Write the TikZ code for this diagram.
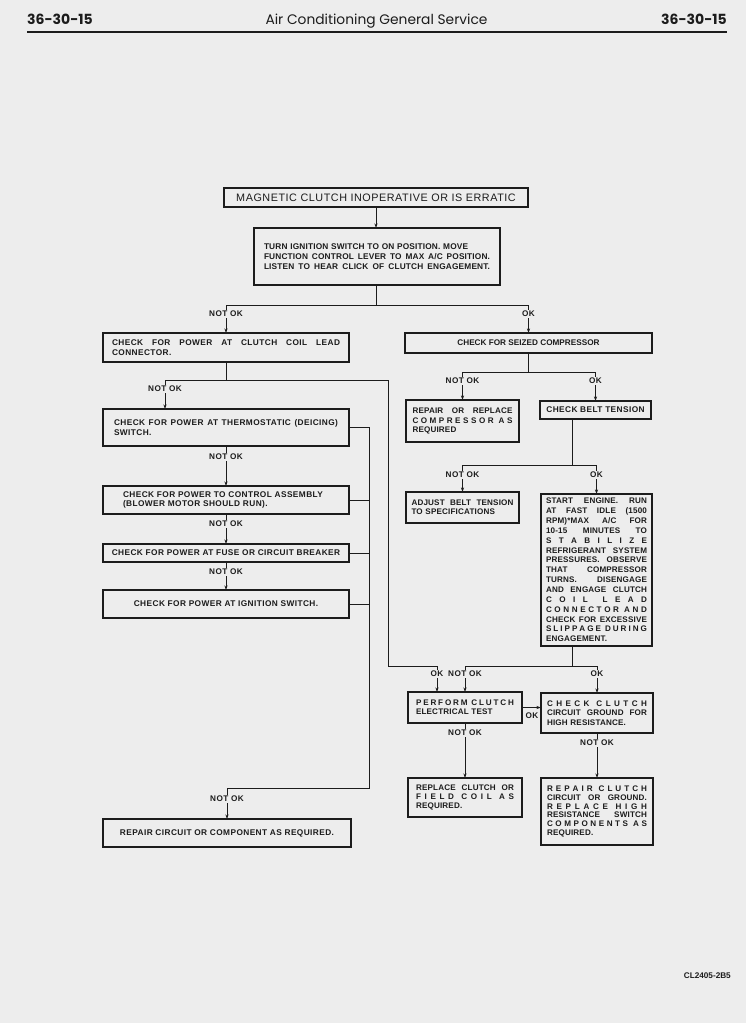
\documentclass[tikz,border=0pt]{standalone}
\usepackage{fontspec}
\setmainfont{Liberation Sans}
\newfontfamily\boxfont{Liberation Sans}[LetterSpace=5]
\newfontfamily\slimfont{Liberation Sans}[LetterSpace=2]
\newfontfamily\headfont{Poppins}
\usetikzlibrary{arrows.meta}
\definecolor{paper}{RGB}{237,237,237}
\definecolor{ink}{RGB}{28,28,28}
\setlength{\parindent}{0pt}
% one justified line, and a word with its letters spread out
\newcommand{\jl}[1]{\makebox[\hsize][s]{\spaceskip=.3em plus 1fil minus .1em\relax #1}}
\newcommand{\ls}[1]{\lsi#1\relax}
\def\lsi#1#2{#1\ifx\relax#2\else\hfill\expandafter\lsi\expandafter#2\fi}

\begin{document}
\begin{tikzpicture}[x=1pt, y=-1pt,
  stepbox/.style={draw=ink, line width=1.2pt, inner ysep=0pt, outer sep=0pt, text=ink, align=left,
    font=\boxfont\bfseries\fontsize{8.3}{9.3}\selectfont},
  slimbox/.style={stepbox, font=\slimfont\bfseries\fontsize{8.1}{9.3}\selectfont},
  midbox/.style={stepbox, inner xsep=0pt, align=center},
  wire/.style={draw=ink, line width=0.8pt},
  arr/.style={wire, -{Stealth[length=4.5pt,width=3pt]}},
  lab/.style={font=\boxfont\bfseries\fontsize{8.2}{9}\selectfont, text=ink, fill=paper, inner sep=1pt}]
  \fill[paper] (0,0) rectangle (746,1023);
  \useasboundingbox (0,0) rectangle (746,1023);

  % Page head
  \node[font=\headfont\bfseries\fontsize{14}{17}\selectfont, text=ink, anchor=base west, inner sep=0pt] (pgl) at (27,24.5) {36-30-15};
  \node[font=\headfont\bfseries\fontsize{14}{17}\selectfont, text=ink, anchor=base east, inner sep=0pt] (pgr) at (727,24.5) {36-30-15};
  \node[font=\headfont\fontsize{13.8}{16}\selectfont, text=ink, anchor=base, inner sep=0pt] (head) at (376.5,24.5) {Air Conditioning General Service};
  \draw[ink, line width=1.3pt] (27,32) -- (727,32);

  % Boxes
  \node[midbox, font=\boxfont\fontsize{10.8}{12}\selectfont, minimum width=304pt, minimum height=19pt] (top) at (376,197.5)
    {MAGNETIC CLUTCH INOPERATIVE OR IS ERRATIC};
  \node[slimbox, text width=226pt, inner xsep=10pt, minimum height=57pt, font=\slimfont\bfseries\fontsize{8.3}{9.8}\selectfont] (turn) at (377,256.5)
    {TURN IGNITION SWITCH TO ON POSITION. MOVE\\
     \jl{FUNCTION CONTROL LEVER TO MAX A/C POSITION.}\\
     \jl{LISTEN TO HEAR CLICK OF CLUTCH ENGAGEMENT.}};

  % left column
  \node[stepbox, text width=228pt, inner xsep=9pt, minimum height=29pt] (coil) at (226,347.5)
    {\jl{CHECK FOR POWER AT CLUTCH COIL LEAD}\\ CONNECTOR.};
  \node[stepbox, text width=224pt, inner xsep=11pt, minimum height=37pt] (thermo) at (226,427.5)
    {\jl{CHECK FOR POWER AT THERMOSTATIC (DEICING)}\\ SWITCH.};
  \node[stepbox, text width=206pt, inner xsep=20pt, minimum height=28pt] (control) at (226,500)
    {CHECK FOR POWER TO CONTROL ASSEMBLY\\ (BLOWER MOTOR SHOULD RUN).};
  \node[midbox, minimum width=246pt, minimum height=18pt] (fuse) at (226,553)
    {CHECK FOR POWER AT FUSE OR CIRCUIT BREAKER};
  \node[midbox, minimum width=246pt, minimum height=28pt] (ignition) at (226,604)
    {CHECK FOR POWER AT IGNITION SWITCH.};
  \node[midbox, minimum width=248pt, minimum height=28pt] (repcirc) at (227,833)
    {REPAIR CIRCUIT OR COMPONENT AS REQUIRED.};

  % right column
  \node[midbox, font=\bfseries\fontsize{8.2}{9}\selectfont, minimum width=247pt, minimum height=20pt] (seized) at (528.5,343)
    {CHECK FOR SEIZED COMPRESSOR};
  \node[slimbox, text width=100pt, inner xsep=6.5pt, minimum height=42pt] (repcomp) at (462.5,421)
    {\jl{REPAIR OR REPLACE}\\ \jl{\ls{COMPRESSOR}\hfill\hfill\ls{AS}}\\ REQUIRED};
  \node[midbox, minimum width=111pt, minimum height=18pt] (belt) at (595.5,410)
    {CHECK BELT TENSION};
  \node[slimbox, text width=102pt, inner xsep=5.5pt, minimum height=31pt] (adjust) at (462.5,507.5)
    {\jl{ADJUST BELT TENSION}\\ TO SPECIFICATIONS};
  \node[slimbox, text width=101pt, inner xsep=5pt, minimum height=152pt, font=\slimfont\bfseries\fontsize{8.1}{9.85}\selectfont] (start) at (596.5,570)
    {\jl{START ENGINE. RUN}\\
     \jl{AT FAST IDLE (1500}\\
     \jl{RPM)*MAX A/C FOR}\\
     \jl{10-15 MINUTES TO}\\
     \jl{\ls{STABILIZE}}\\
     \jl{REFRIGERANT SYSTEM}\\
     \jl{PRESSURES. OBSERVE}\\
     \jl{THAT COMPRESSOR}\\
     \jl{TURNS. DISENGAGE}\\
     \jl{AND ENGAGE CLUTCH}\\
     \jl{\ls{COIL}\hfill\hfill\ls{LEAD}}\\
     \jl{\ls{CONNECTOR}\hfill\hfill\ls{AND}}\\
     \jl{CHECK FOR EXCESSIVE}\\
     \jl{\ls{SLIPPAGE}\hfill\hfill\ls{DURING}}\\
     ENGAGEMENT.};
  \node[slimbox, text width=98pt, inner xsep=8pt, minimum height=31pt] (perform) at (465,707.5)
    {\jl{\ls{PERFORM}\hfill\hfill\ls{CLUTCH}}\\ ELECTRICAL TEST};
  \node[slimbox, text width=100pt, inner xsep=6pt, minimum height=40pt] (checkgnd) at (597,713)
    {\jl{\ls{CHECK}\hfill\hfill\ls{CLUTCH}}\\ \jl{CIRCUIT GROUND FOR}\\ HIGH RESISTANCE.};
  \node[slimbox, text width=98pt, inner xsep=8pt, minimum height=39pt] (replace) at (465,797.5)
    {\jl{REPLACE CLUTCH OR}\\ \jl{\ls{FIELD}\hfill\hfill\ls{COIL}\hfill\hfill\ls{AS}}\\ REQUIRED.};
  \node[slimbox, text width=100pt, inner xsep=6pt, minimum height=67pt, font=\slimfont\bfseries\fontsize{8.1}{8.9}\selectfont] (repclutch) at (597,811.5)
    {\jl{\ls{REPAIR}\hfill\hfill\ls{CLUTCH}}\\
     \jl{CIRCUIT OR GROUND.}\\
     \jl{\ls{REPLACE}\hfill\hfill\ls{HIGH}}\\
     \jl{RESISTANCE SWITCH}\\
     \jl{\ls{COMPONENTS}\hfill\hfill\ls{AS}}\\
     REQUIRED.};

  % Junctions
  \coordinate (j1) at (376,305);
  \coordinate (j2) at (226,380);
  \coordinate (j3) at (528.5,372);
  \coordinate (j4) at (572,465);
  \coordinate (j5) at (572,666);
  \coordinate (bus) at (369,788);

  % Connectors
  \draw[arr] (top.south) -- (top.south |- turn.north);
  \draw[wire] (turn.south -| j1) -- (j1);
  \draw[arr] (j1) -| (coil.north);
  \draw[arr] (j1) -| (seized.north);
  \draw[wire] (coil.south) -- (j2);
  \draw[arr] (j2) -| ([xshift=-61pt]thermo.north);
  \draw[arr] (j2) -| (388,666) -| ([xshift=-28pt]perform.north);
  \draw[arr] (thermo) -- (control);
  \draw[arr] (control) -- (fuse);
  \draw[arr] (fuse) -- (ignition);
  \draw[arr] (thermo.east) -| (bus) -| (repcirc.north);
  \foreach \b in {control,fuse,ignition}
    \draw[wire] (\b.east) -- (\b.east -| bus);

  \draw[wire] (seized.south) -- (j3);
  \draw[arr] (j3) -| (repcomp.north);
  \draw[arr] (j3) -| (belt.north);
  \draw[wire] (belt.south -| j4) -- (j4);
  \draw[arr] (j4) -| (adjust.north);
  \draw[arr] (j4) -| (start.north);
  \draw[wire] (start.south -| j5) -- (j5);
  \draw[arr] (j5) -| (perform.north);
  \draw[arr] (j5) -| (checkgnd.north);
  \draw[arr] (perform.east) -- (perform.east -| checkgnd.west);
  \draw[arr] (perform) -- (replace);
  \draw[arr] (checkgnd) -- (repclutch);

  % Branch labels
  \foreach \n/\x/\y/\t in {l1/226/314/NOT OK, l2/528.5/314/OK, l3/165/389/NOT OK,
      l4/226/457/NOT OK, l5/226/524/NOT OK, l6/226/572/NOT OK, l7/227/799/NOT OK,
      l8/462.5/381/NOT OK, l9/595.5/381/OK, l10/462.5/475/NOT OK, l11/596.5/475/OK,
      l12/437/674/OK, l13/465/674/NOT OK, l14/597/674/OK, l15/465/733/NOT OK, l16/597/743/NOT OK}
    \node[lab] (\n) at (\x,\y) {\t};
  \node[lab, fill=none] (l17) at (532,716) {OK};

  % Drawing number
  \node[font=\bfseries\fontsize{8.2}{9}\selectfont, text=ink, anchor=base east, inner sep=0pt] (code) at (731,978) {CL2405-2B5};
\end{tikzpicture}
\end{document}
